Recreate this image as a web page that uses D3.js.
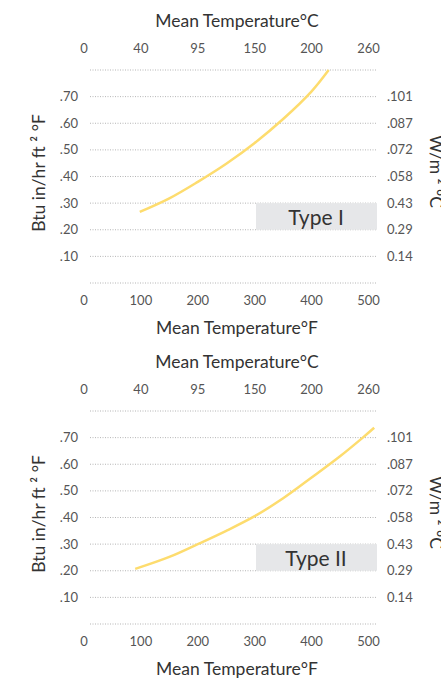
<!DOCTYPE html>
<html lang="en">
<head>
<meta charset="UTF-8">
<title>Thermal conductivity - Type I / Type II</title>
<script src="https://d3js.org/d3.v7.min.js"></script>
<style>
  body { margin: 0; background: #fff; }
  svg text { font-family: Lato, "Open Sans", sans-serif; }
</style>
</head>
<body>
<div id="chart"></div>
<script>
// ---- data ----
var fTicks = [0, 100, 200, 300, 400, 500]
var cTicks = ["0", "40", "95", "150", "200", "260"]
var yTicks = [0.1, 0.2, 0.3, 0.4, 0.5, 0.6, 0.7]
var yRightLabels = ["0.14", "0.29", "0.43", ".058", ".072", ".087", ".101"]
var yGrid = [0, 0.1, 0.2, 0.3, 0.4, 0.5, 0.6, 0.7, 0.8]

// Type I  (mean temp °F, conductivity Btu in/hr ft2 °F)
var type1F = [98, 150, 200, 250, 300, 350, 400, 430]
var type1K = [0.267, 0.318, 0.380, 0.448, 0.526, 0.616, 0.720, 0.80]
// Type II
var type2F = [90, 150, 200, 250, 300, 350, 400, 450, 490, 510]
var type2K = [0.207, 0.252, 0.30, 0.350, 0.405, 0.472, 0.550, 0.630, 0.700, 0.737]

var width = 441
var height = 682

var svg = d3.select("#chart")
  .append("svg")
    .attr("width", width)
    .attr("height", height)

var x = d3.scaleLinear().domain([0, 500]).range([84, 368.5])

function drawPanel(top, fs, ks, name) {
  var g = svg.append("g").attr("transform", "translate(0," + top + ")")
  var y = d3.scaleLinear().domain([0, 0.8]).range([283, 70])

  // top title + celsius labels (sit on the same slots as the °F ticks)
  g.append("text")
    .attr("x", 237).attr("y", 27)
    .attr("text-anchor", "middle")
    .style("font-size", "17.5px").style("fill", "#333")
    .text("Mean Temperature°C")
  g.selectAll(".ct").data(cTicks).enter().append("text")
    .attr("x", function(d, i) { return x(fTicks[i]) })
    .attr("y", 53)
    .attr("text-anchor", "middle")
    .style("font-size", "13px").style("fill", "#555")
    .text(function(d) { return d })

  // dotted grid
  g.selectAll(".grid").data(yGrid).enter().append("line")
    .attr("x1", 90).attr("x2", 377)
    .attr("y1", function(d) { return y(d) })
    .attr("y2", function(d) { return y(d) })
    .attr("stroke", "#b5b5b5")
    .attr("stroke-width", 1)
    .attr("stroke-dasharray", "1,1.5")

  // label box
  g.append("rect")
    .attr("x", 256).attr("width", 121)
    .attr("y", y(0.3)).attr("height", y(0.2) - y(0.3))
    .attr("fill", "#e6e7e9")
  g.append("text")
    .attr("x", 316).attr("y", y(0.2) - 5)
    .attr("text-anchor", "middle")
    .style("font-size", "21px").style("fill", "#333")
    .text(name)

  // left ticks
  g.selectAll(".yl").data(yTicks).enter().append("text")
    .attr("x", 78)
    .attr("y", function(d) { return y(d) + 4.5 })
    .attr("text-anchor", "end")
    .style("font-size", "13px").style("fill", "#555")
    .text(function(d) { return d3.format(".2f")(d).replace(/^0/, "") })

  // right ticks
  g.selectAll(".yr").data(yRightLabels).enter().append("text")
    .attr("x", 387)
    .attr("y", function(d, i) { return y(yTicks[i]) + 4.5 })
    .style("font-size", "13px").style("fill", "#555")
    .text(function(d) { return d })

  // axis titles
  g.append("text")
    .attr("transform", "translate(45,173) rotate(-90)")
    .attr("text-anchor", "middle")
    .style("font-size", "17.5px").style("fill", "#333")
    .text("Btu in/hr ft ² °F")
  g.append("text")
    .attr("transform", "translate(430,135) rotate(90)")
    .style("font-size", "17.5px").style("fill", "#333")
    .text("W/m ² °C")

  // bottom fahrenheit labels + title
  g.selectAll(".ft").data(fTicks).enter().append("text")
    .attr("x", function(d) { return x(d) })
    .attr("y", 305)
    .attr("text-anchor", "middle")
    .style("font-size", "13px").style("fill", "#555")
    .text(function(d) { return d })
  g.append("text")
    .attr("x", 237).attr("y", 334)
    .attr("text-anchor", "middle")
    .style("font-size", "17.5px").style("fill", "#333")
    .text("Mean Temperature°F")

  // curve
  var pts = fs.map(function(f, i) { return [f, ks[i]] })
  var line = d3.line()
    .x(function(d) { return x(d[0]) })
    .y(function(d) { return y(d[1]) })
    .curve(d3.curveCatmullRom)
  g.append("path")
    .datum(pts)
    .attr("d", line)
    .attr("fill", "none")
    .attr("stroke", "#fddc6e")
    .attr("stroke-width", 2.5)
}

drawPanel(0, type1F, type1K, "Type I")
drawPanel(341, type2F, type2K, "Type II")
</script>
</body>
</html>
